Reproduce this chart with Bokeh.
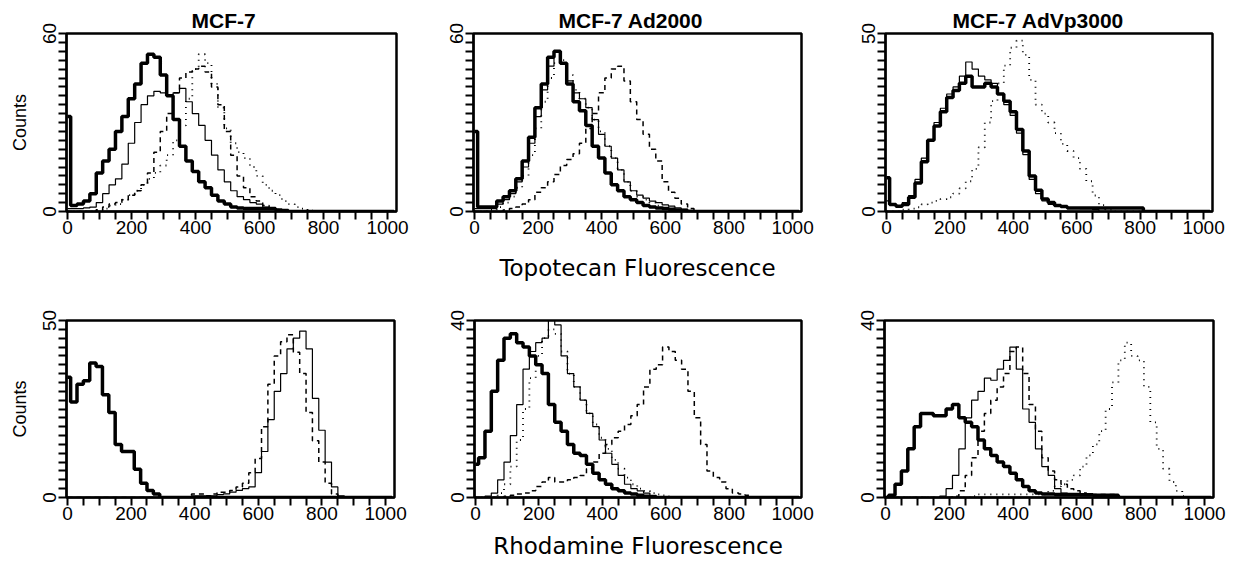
from bokeh.plotting import figure
from bokeh.layouts import row, column
from bokeh.models import Range1d, FixedTicker
from bokeh.embed import file_html
from bokeh.resources import INLINE

# ---------------- data (histogram counts per 20-channel bin) ----------------
channels = list(range(0, 1021, 20))

titles = ["MCF-7", "MCF-7 Ad2000", "MCF-7 AdVp3000"]
x_ticks = [0, 200, 400, 600, 800, 1000]
top_ymax = [60, 60, 50]
bottom_ymax = [50, 40, 40]

# Topotecan, MCF-7
topo_mcf7_thick = [32, 2, 2.5, 3.5, 6, 13, 17, 21, 27, 32, 38, 43, 50, 53, 52, 46, 39, 31, 22, 17,
                   13.5, 10, 8, 5.5, 3.5, 2.5, 1.5, 1.2, 1, 1, 1, 1, 1, 0.5, 0.3]
topo_mcf7_thin = [1, 1, 1, 1.2, 1.5, 3, 6, 9, 11, 16, 23, 30, 36, 39, 40.5, 40, 39, 40, 41.5, 37,
                  33, 29, 24, 19, 14, 10, 7, 5, 4, 3, 2.5, 1.5, 1, 0.5]
topo_mcf7_dash = [0, 0, 0, 0, 0, 0.5, 1.5, 2.5, 3, 4, 5.5, 7, 9, 13, 20, 27, 33, 40, 45, 47,
                  48, 49, 47, 42, 36, 27, 19, 12, 8, 5, 3.5, 2, 1.2, 0.7, 0.3]
topo_mcf7_dot = [0, 0, 0, 0, 0, 0.5, 1, 2, 2.5, 4, 5.5, 7, 9, 11, 13, 15.5, 19, 24, 29, 38,
                 48, 53, 50, 43, 35, 28, 23, 20, 18, 15, 12, 9, 7, 5.5, 3.5, 2.5, 1.5, 1, 0.3]

# Topotecan, MCF-7 Ad2000
topo_ad_thick = [27, 1.5, 1.5, 1.5, 3.5, 5, 7, 11, 17, 25, 35, 43, 52, 54, 50, 43, 37, 34, 29, 22,
                 18, 13, 9, 7, 5, 4, 3, 2, 1.5, 1.2, 1, 0.8, 0.5, 0.3]
topo_ad_thin = [1, 1, 1, 1, 2.5, 4, 6, 10, 15, 23, 32, 41, 49, 54, 50, 44, 40, 38, 35, 31,
                26, 22, 18, 14, 10, 7, 5.5, 4.5, 3.5, 3, 2.2, 1.8, 1.2, 0.8, 0.4]
topo_ad_dot = [0, 0, 0, 0.5, 1.5, 3, 5, 8, 12, 19, 28, 37, 45, 50, 51, 46, 41, 38, 35, 31,
               27, 22, 18, 14, 10, 7, 5, 4, 3, 2, 1.5, 1, 0.5]
topo_ad_dash = [0, 0, 0, 0, 0, 0.5, 1, 1.5, 2.5, 4, 6.5, 8, 10, 12.5, 15.5, 17.5, 19.5, 23, 28, 33,
                40, 45, 48, 49, 44, 37, 31, 26, 21, 17, 10, 6.5, 4.5, 2.5, 1]

# Topotecan, MCF-7 AdVp3000
topo_vp_thick = [9.5, 2, 1.5, 2, 4, 8, 14, 20, 24, 28, 32, 34, 36, 38, 35, 35, 36, 35, 33, 31,
                 28, 23, 17, 10, 6, 3.5, 2.5, 1.7, 1.4, 1, 1, 1, 1, 1, 1, 1, 1, 1, 1, 1, 1]
topo_vp_thin = [3, 2, 1.5, 2.5, 4.5, 9, 15, 20, 25, 29, 33, 35, 38, 42, 40, 38, 37, 36, 33, 30,
                27, 22, 16, 9, 5, 3, 2, 1.5, 1.2, 1, 1, 0.8, 0.8, 0.5]
topo_vp_dot = [0, 0, 0, 0.5, 0.8, 1.2, 2, 2.5, 3, 3.5, 4, 5, 6.5, 8.5, 12, 18, 25, 31, 36, 41,
               46, 48, 44, 37, 30, 27.5, 25, 22, 19, 17, 15, 12, 8.5, 4.5, 1.8, 0.5]

# Rhodamine, MCF-7
rho_mcf7_thick = [34, 27, 32, 33, 38, 37, 29, 24, 15, 13, 13, 8, 4, 2, 1]
rho_mcf7_thin = [0] * 20 + [0.5, 0.5, 0.5, 0.5, 0.8, 1, 1.5, 2, 2.5, 3, 7, 13, 22, 30, 35, 42, 45, 47,
                            42, 28, 19, 10, 3, 0.5]
rho_mcf7_dash = [0] * 20 + [1, 1, 0.5, 1, 1.5, 1.5, 2, 3, 4, 7, 11, 20, 32, 40, 44, 46, 41, 35, 24,
                            16, 10, 4, 1]

# Rhodamine, MCF-7 Ad2000
rho_ad_thick = [7.5, 9, 15, 24, 31, 36, 37, 35, 34, 32, 30, 28, 21, 17, 15, 12, 10, 9.5, 7.5, 5.5,
                4, 3, 2, 1.5, 1, 0.8, 0.5, 0.3]
rho_ad_thin = [0, 0, 0.3, 1, 4, 8, 14, 21, 29, 33, 35, 36, 40, 39, 32, 28, 25, 22, 19, 16,
               13, 10, 7.5, 5, 3, 2, 1.5, 1, 0.5]
rho_ad_dot = [0, 0, 0, 0, 1, 3, 7, 13, 20, 27, 32, 36, 38, 37, 33, 28, 25, 22, 19, 16.5,
              13.5, 11, 8.5, 6.5, 4.5, 3, 2, 1.5, 1, 0.7, 0.5]
rho_ad_dash = [0, 0, 0, 0, 0, 0.3, 0.5, 0.8, 1, 1.5, 2.5, 3.5, 4.5, 3.5, 3.5, 4, 4.5, 5, 6.5, 8,
               10, 12, 13.5, 15, 16.5, 18.5, 21, 25, 29, 30, 34, 33, 31, 29, 24, 18, 12, 6, 4.5, 3.5,
               2, 1, 0.8, 0.5]

# Rhodamine, MCF-7 AdVp3000
rho_vp_thick = [0, 0.5, 3, 6, 11, 16, 19, 19, 18.5, 18.5, 20, 21, 18, 17, 16, 13, 11, 9.5, 8, 7,
                5.5, 4, 2.5, 1.5, 1, 0.8, 0.8, 0.7, 0.7, 0.7, 0.7, 0.6, 0.6, 0.5, 0.5, 0.5, 0.5]
rho_vp_thin = [0] * 9 + [0.3, 2, 5, 11, 18, 22, 24, 27, 26.5, 29, 31, 34, 29, 20, 17, 11, 7, 5, 2, 1,
                         0.8, 0.7, 0.5, 0.5, 0.5, 0.5, 0.5]
rho_vp_dash = [0] * 11 + [0.3, 1.5, 5, 9, 15, 19, 22, 25, 28, 33, 34, 28, 21, 15, 9, 6, 4, 3, 2, 1.5,
                          1, 0.7, 0.7, 0.7, 0.7, 0.7]
rho_vp_dot = [0] * 14 + [0.3, 0.7, 0.7, 0.7, 0.7, 0.7, 0.7, 0.7, 0.7, 0.7, 0.7, 0.7, 1.5, 2.5, 3, 4,
                         5, 7, 9.5, 12, 15, 20, 26, 31, 35, 32, 31, 25, 17, 11, 6.5, 3.5, 1.5, 0.3]

# ---------------- styling ----------------
STYLES = {
    "thick": dict(line_width=3.5),
    "thin": dict(line_width=1.2),
    "dash": dict(line_width=1.5, line_dash="5 4"),
    "dot": dict(line_width=1.8, line_dash="1 5"),
}
TICK_FONT = "Liberation Sans"


def pad(vals):
    return list(vals) + [0] * (len(channels) - len(vals))


def make_panel(width, height, bl, br, bt, bb, ymax, curves, title=None, title_off=0,
               xlabel=None, ylabel=None, xlabel_standoff=10):
    p = figure(width=width, height=height, x_range=Range1d(-3, 1028), y_range=Range1d(0, ymax),
               output_backend="svg", toolbar_location=None,
               min_border_left=bl, min_border_right=br, min_border_top=bt, min_border_bottom=bb)
    p.background_fill_color = "white"
    p.border_fill_color = "white"
    p.outline_line_color = "black"
    p.outline_line_width = 2.5
    p.xgrid.visible = False
    p.ygrid.visible = False

    for kind, vals in curves:
        p.step(channels, pad(vals), mode="center", line_color="black", **STYLES[kind])

    for ax in (p.xaxis[0], p.yaxis[0]):
        ax.axis_line_width = 2
        ax.axis_line_color = "black"
        ax.major_tick_in = 0
        ax.major_tick_out = 8
        ax.minor_tick_in = 0
        ax.minor_tick_out = 0
        ax.major_tick_line_width = 2
        ax.major_tick_line_color = "black"
        ax.major_label_text_font = TICK_FONT
        ax.major_label_text_font_size = "19px"
        ax.major_label_text_color = "black"
        ax.major_label_standoff = 1

    # tick marks every 50 channels, labels only every 200
    x_marks = list(range(0, 1001, 50))
    p.xaxis.ticker = FixedTicker(ticks=x_marks)
    p.xaxis.major_label_overrides = {v: ("" if v not in x_ticks else str(v)) for v in x_marks}
    y_marks = [ymax * i / 20 for i in range(21)]
    p.yaxis.ticker = FixedTicker(ticks=y_marks)
    p.yaxis.major_label_overrides = {v: (str(int(v)) if v in (0, ymax) else "") for v in y_marks}
    p.yaxis.major_label_orientation = "vertical"
    p.yaxis.major_label_standoff = 3

    if xlabel:
        p.xaxis.axis_label = xlabel
        p.xaxis.axis_label_text_font = "DejaVu Sans"
        p.xaxis.axis_label_text_font_size = "23px"
        p.xaxis.axis_label_text_font_style = "normal"
        p.xaxis.axis_label_text_color = "black"
        p.xaxis.axis_label_standoff = xlabel_standoff
    if ylabel:
        p.yaxis.axis_label = ylabel
        p.yaxis.axis_label_text_font = TICK_FONT
        p.yaxis.axis_label_text_font_size = "18px"
        p.yaxis.axis_label_text_font_style = "normal"
        p.yaxis.axis_label_text_color = "black"
        p.yaxis.axis_label_standoff = 10

    if title:
        p.title.text = title
        p.title.align = "left"
        p.title.offset = title_off
        p.title.text_font = TICK_FONT
        p.title.text_font_size = "21px"
        p.title.text_font_style = "bold"
        p.title.text_color = "black"
        p.title.standoff = 4
    return p


H1, H2 = 285, 276
W1, W2, W3 = 430, 415, 395

p1 = make_panel(W1, H1, 66, 34, 29, 74, top_ymax[0],
                [("thick", topo_mcf7_thick), ("thin", topo_mcf7_thin),
                 ("dash", topo_mcf7_dash), ("dot", topo_mcf7_dot)],
                title=titles[0], title_off=125, ylabel="Counts")
p2 = make_panel(W2, H1, 43, 44, 32, 72, top_ymax[1],
                [("thick", topo_ad_thick), ("thin", topo_ad_thin),
                 ("dot", topo_ad_dot), ("dash", topo_ad_dash)],
                title=titles[1], title_off=85, xlabel="Topotecan Fluorescence", xlabel_standoff=18)
p3 = make_panel(W3, H1, 40, 28, 33, 68, top_ymax[2],
                [("thick", topo_vp_thick), ("thin", topo_vp_thin), ("dot", topo_vp_dot)],
                title=titles[2], title_off=67)

p4 = make_panel(W1, H2, 66, 36, 28, 64, bottom_ymax[0],
                [("thick", rho_mcf7_thick), ("thin", rho_mcf7_thin), ("dash", rho_mcf7_dash)],
                ylabel="Counts")
p5 = make_panel(W2, H2, 44, 44, 28, 64, bottom_ymax[1],
                [("thick", rho_ad_thick), ("thin", rho_ad_thin),
                 ("dot", rho_ad_dot), ("dash", rho_ad_dash)],
                xlabel="Rhodamine Fluorescence", xlabel_standoff=10)
p6 = make_panel(W3, H2, 39, 27, 35, 60, bottom_ymax[2],
                [("thick", rho_vp_thick), ("thin", rho_vp_thin),
                 ("dash", rho_vp_dash), ("dot", rho_vp_dot)])

layout = column(row(p1, p2, p3), row(p4, p5, p6))
open("out.html", "w").write(file_html(layout, INLINE))
